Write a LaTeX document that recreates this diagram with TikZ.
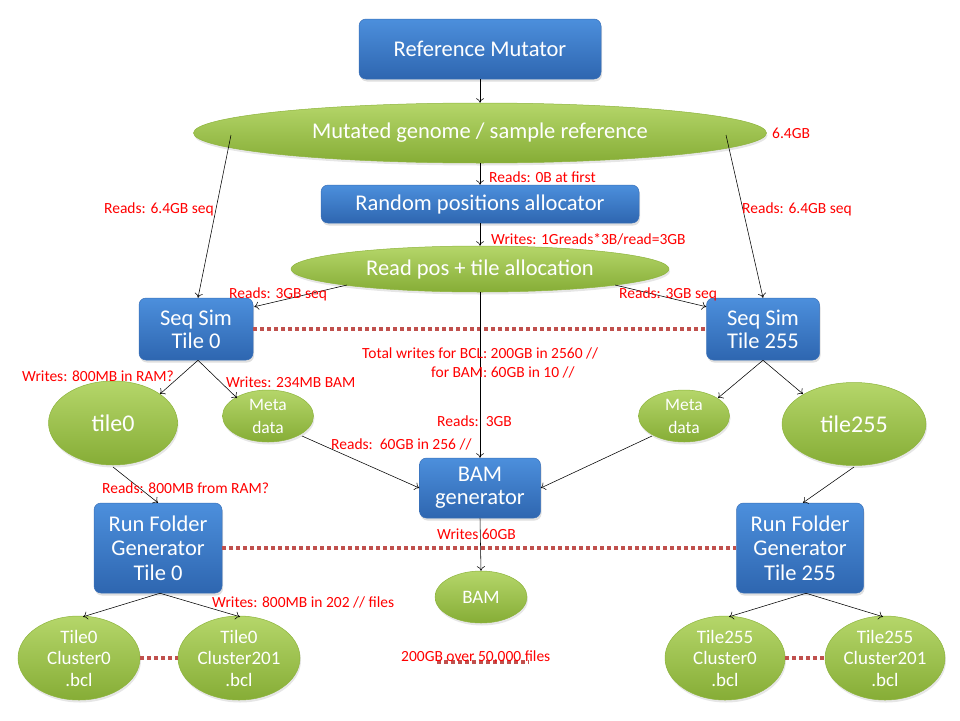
\documentclass[tikz,border=0pt]{standalone}
\usepackage{fontspec}
\setmainfont{Carlito}
\usetikzlibrary{shapes.geometric,arrows.meta,calc,shadows}
\definecolor{btop}{HTML}{4C8FDC}
\definecolor{bbot}{HTML}{2E66B0}
\definecolor{bedge}{HTML}{3A70B8}
\definecolor{gtop}{HTML}{B5D66A}
\definecolor{gbot}{HTML}{86AD36}
\definecolor{gedge}{HTML}{8DB43C}
\definecolor{dotred}{HTML}{C0504D}
\newcommand\FBig{\fontsize{22.5}{23}\selectfont}
\newcommand\FRF{\fontsize{22.5}{24.5}\selectfont}
\newcommand\FTile{\fontsize{24}{26}\selectfont}
\newcommand\FMeta{\fontsize{17.5}{23}\selectfont}
\newcommand\FClu{\fontsize{19}{21.5}\selectfont}
\newcommand\FLbl{\fontsize{15.5}{18}\selectfont}
\tikzset{
  bx/.style={rectangle, rounded corners=7pt, top color=btop, bottom color=bbot,
    draw=bedge, line width=0.5pt, text=white, align=center, inner sep=0pt, font=\FBig,
    drop shadow={shadow xshift=1pt, shadow yshift=-2.5pt, opacity=0.25}},
  el/.style={ellipse, top color=gtop, bottom color=gbot, draw=gedge, line width=0.5pt,
    text=white, align=center, inner sep=0pt, font=\FBig,
    drop shadow={shadow xshift=1pt, shadow yshift=-2.5pt, opacity=0.2}},
  lbl/.style={text=red, font=\FLbl, inner sep=0pt, anchor=base west},
  arr/.style={-{To[length=4.5pt,width=8pt]}, line width=0.55pt, draw=black},
  dots/.style={draw=dotred, line width=4pt, dash pattern=on 4pt off 3pt},
}
\begin{document}
\begin{tikzpicture}[x=1pt,y=-1pt]
\useasboundingbox (0,0) rectangle (960,720);
% nodes
\node[bx, minimum width=242, minimum height=60] (mut) at (480,49) {Reference Mutator};
\node[el, minimum width=573, minimum height=60] (gen) at (480,133) {Mutated genome / sample reference};
\node[bx, minimum width=318, minimum height=38] (rand) at (480,204) {Random positions allocator};
\node[el, minimum width=378, minimum height=46] (rpos) at (480,269) {Read pos + tile allocation};
\node[bx, minimum width=114, minimum height=62] (ss0) at (196,329) {Seq Sim\\Tile 0};
\node[bx, minimum width=113, minimum height=62] (ss255) at (763,329) {Seq Sim\\Tile 255};
\node[el, minimum width=129, minimum height=84, font=\FTile] (t0) at (113,423) {tile0};
\node[el, minimum width=91, minimum height=52, font=\FMeta, inner sep=-5pt] (m0) at (268,416) {Meta\\data};
\node[el, minimum width=91, minimum height=52, font=\FMeta, inner sep=-5pt] (m255) at (684,416) {Meta\\data};
\node[el, minimum width=144, minimum height=83, font=\FTile] (t255) at (854,424) {tile255};
\node[bx, minimum width=121, minimum height=60] (bamg) at (480,488) {BAM\\generator};
\node[bx, minimum width=128, minimum height=90, font=\FRF] (rf0) at (158,548) {Run Folder\\Generator\\Tile 0};
\node[bx, minimum width=127, minimum height=90, font=\FRF] (rf255) at (800,548) {Run Folder\\Generator\\Tile 255};
\node[el, minimum width=92, minimum height=52, font=\FClu] (bam) at (481,597) {BAM};
\node[el, minimum width=122, minimum height=84, font=\FClu, inner sep=-8pt] (c00) at (79,658) {Tile0\\Cluster0\\.bcl};
\node[el, minimum width=122, minimum height=84, font=\FClu, inner sep=-8pt] (c01) at (239,658) {Tile0\\Cluster201\\.bcl};
\node[el, minimum width=120, minimum height=84, font=\FClu, inner sep=-8pt] (c250) at (725,658) {Tile255\\Cluster0\\.bcl};
\node[el, minimum width=120, minimum height=84, font=\FClu, inner sep=-8pt] (c251) at (885,658) {Tile255\\Cluster201\\.bcl};
% dotted links
\draw[dots] (ss0.east) -- (ss255.west);
\draw[dots] (rf0.east) -- (rf255.west);
\draw[dots] (c00.east) -- (c01.west);
\draw[dots] (c250.east) -- (c251.west);
\coordinate (dl1) at (437,662);
\coordinate (dl2) at (529,662);
\draw[dots] (dl1) -- (dl2);
% connectors
\draw[arr] (mut.south) -- (gen.north);
\draw[arr] ($(gen.center)+(-249,2)$) -- ($(ss0.north)+(2,0)$);
\draw[arr] ($(gen.center)+(246,2)$) -- (ss255.north);
\draw[arr] (gen.south) -- (rand.north);
\draw[arr] (rand.south) -- (rpos.north);
\draw[arr] ($(rpos.center)+(-133,16)$) -- ($(ss0.north east)+(1,9)$);
\draw[arr] ($(rpos.center)+(135,16)$) -- ($(ss255.north west)+(0,9)$);
\draw[arr] (rpos.south) -- (bamg.north);
\draw[arr] ($(ss0.south)+(2,0)$) -- ($(t0.center)+(47,-29)$);
\draw[arr] ($(ss0.south)+(2,0)$) -- ($(m0.center)+(-31,-18)$);
\draw[arr] (ss255.south) -- ($(m255.center)+(34,-18)$);
\draw[arr] (ss255.south) -- ($(t255.center)+(-51,-30)$);
\draw[arr] ($(m0.center)+(34,20)$) -- (bamg.west);
\draw[arr] ($(m255.center)+(-32,20)$) -- (bamg.east);
\draw[arr] ($(t0.center)+(0,44)$) -- (rf0.north);
\draw[arr] ($(t255.center)+(0,43)$) -- ($(rf255.north)+(3,0)$);
\draw[arr] (bamg.south) -- (bam.north);
\draw[arr] ($(rf0.south)+(2,0)$) -- ($(c00.north)+(4,1)$);
\draw[arr] ($(rf0.south)+(2,0)$) -- ($(c01.north)+(1,1)$);
\draw[arr] ($(rf255.south)+(6,0)$) -- ($(c250.north)+(4,1)$);
\draw[arr] ($(rf255.south)+(6,0)$) -- ($(c251.north)+(-2,1)$);
% labels
\node[lbl] (l1) at (772,138) {6.4GB};
\node[lbl] (l2) at (489,182) {Reads: 0B at first};
\node[lbl] (l3) at (104,213) {Reads: 6.4GB seq};
\node[lbl] (l4) at (742,213) {Reads: 6.4GB seq};
\node[lbl] (l5) at (491,244) {Writes: 1Greads*3B/read=3GB};
\node[lbl] (l6) at (229,298) {Reads: 3GB seq};
\node[lbl] (l7) at (619,298) {Reads: 3GB seq};
\node[lbl] (l8) at (362,358) {Total writes for BCL: 200GB in 2560 //};
\node[lbl] (l9) at (431,377) {for BAM: 60GB in 10 //};
\node[lbl] (l10) at (22,381) {Writes: 800MB in RAM?};
\node[lbl] (l11) at (226,387) {Writes: 234MB BAM};
\node[lbl] (l12) at (437,426) {Reads:\ \ 3GB};
\node[lbl] (l13) at (331,449) {Reads:\ \ 60GB in 256 //};
\node[lbl] (l14) at (102,493) {Reads: 800MB from RAM?};
\node[lbl] (l15) at (437,539) {Writes 60GB};
\node[lbl] (l16) at (212,607) {Writes: 800MB in 202 // files};
\node[lbl] (l17) at (401,661) {200GB over 50,000 files};
\end{tikzpicture}
\end{document}
